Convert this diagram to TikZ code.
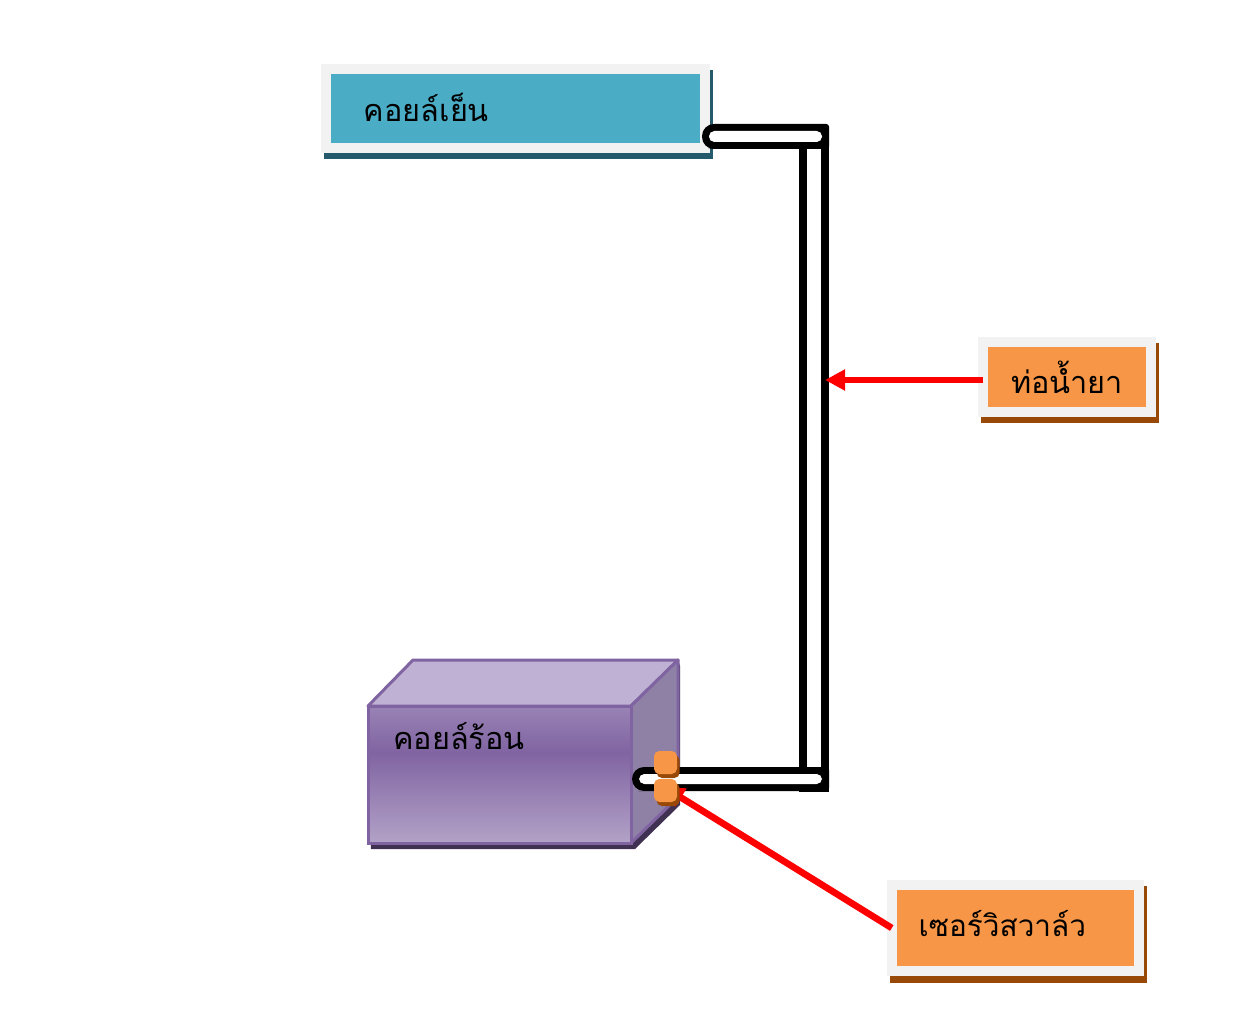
\documentclass[tikz,border=0pt]{standalone}
\usepackage{fontspec}
\usetikzlibrary{arrows.meta,shadows}
\newfontfamily\thaifont[Script=Thai]{Loma}

\definecolor{coolfill}{HTML}{4BACC6}
\definecolor{coolshade}{HTML}{245A6B}
\definecolor{warmfill}{HTML}{F79646}
\definecolor{warmshade}{HTML}{984807}
\definecolor{rimgray}{HTML}{F2F2F2}
\definecolor{hotedge}{HTML}{8064A2}
\definecolor{hottop}{HTML}{BFB1D3}
\definecolor{hotside}{HTML}{8F81A6}
\definecolor{hotshadow}{HTML}{403152}

\pgfdeclareverticalshading{hotfront}{100bp}{color(0bp)=(hotedge!55!white); color(25bp)=(hotedge!60!white); color(58bp)=(hotedge); color(75bp)=(hotedge!80!white); color(100bp)=(hotedge!80!white)}

\tikzset{
	thaitext/.style={font=\thaifont\fontsize{23}{26}\selectfont,text=black},
	panel/.style={rectangle,draw=rimgray,line width=7.5pt,outer sep=0pt,thaitext,
		general shadow={draw=#1,fill=#1,line width=7.5pt,shadow xshift=2.2pt,shadow yshift=-4.8pt}},
	pointer/.style={draw=red,line width=5pt,-{Triangle[length=15pt,width=15pt]}},
	nut/.style={rectangle,rounded corners=4pt,fill=warmfill,inner sep=0pt,
		minimum width=17.25pt,minimum height=17.25pt,
		general shadow={fill=warmshade,shadow xshift=2pt,shadow yshift=-3pt}}
}

\begin{document}
\begin{tikzpicture}[x=0.75pt,y=0.75pt,yscale=-1]
	\useasboundingbox (0,0) rectangle (1243,1012);

	% Cold coil box
	\node [panel=coolshade,fill=coolfill,minimum width=284.25pt,minimum height=59.25pt,text depth=2pt,
		text width=227.25pt,inner xsep=28.5pt,inner ysep=0pt,align=left] (coolbox) at (515.3,108.5) {คอยล์เย็น};

	% Hot coil block
	\fill [hotshadow] (371,849) -- (635,849) -- (680,805) -- (680,666) -- (678,660) -- (368,706) -- cycle;
	\filldraw [draw=hotedge,line width=2.25pt,fill=hottop,line join=round] (368,706) -- (413,660) -- (678,660) -- (631,706) -- cycle;
	\filldraw [draw=hotedge,line width=2.25pt,fill=hotside,line join=round] (631,706) -- (678,660) -- (678,797) -- (631,843) -- cycle;
	\node [rectangle,draw=hotedge,line width=2.25pt,shading=hotfront,minimum width=197.25pt,minimum height=102.75pt,inner sep=0pt] (hotbox) at (499.5,774.5) {};
	\node [thaitext,anchor=west,inner sep=0pt] (hotlabel) at (393,736) {คอยล์ร้อน};

	% Pipes
	\draw [line width=5.6pt,fill=white] (803,130) rectangle (825,788);
	\fill [rounded corners=9pt] (720,124) -- (702,124) -- (702,149) -- (720,149) [sharp corners] -- (826,149) [rounded corners=2pt] -- (829,149) -- (829,124) -- cycle;
	\fill [white,rounded corners=4pt] (709,131) rectangle (822,142);
	\fill [rounded corners=9pt] (650,767) -- (632,767) -- (632,791) -- (650,791) [sharp corners] -- (826,791) [rounded corners=2pt] -- (829,791) -- (829,767) -- cycle;
	\fill [white,rounded corners=4pt] (639,774) rectangle (822,784);

	% Labels
	\node [panel=warmshade,fill=warmfill,minimum width=126pt,minimum height=52.5pt,inner sep=0pt] (pipelabel) at (1067,377) {ท่อน้ำยา};
	\node [panel=warmshade,fill=warmfill,minimum width=185.6pt,minimum height=65pt,text depth=7.5pt,
		font=\thaifont\fontsize{22.3}{26}\selectfont,
		text width=145.2pt,inner xsep=20.2pt,inner ysep=0pt,align=left] (valvelabel) at (1015.5,928) {เซอร์วิสวาล์ว};

	% Pointers
	\coordinate (pipetip) at (825,380);
	\coordinate (valvetip) at (664,787);
	\draw [pointer] (pipelabel.west |- pipetip) -- (pipetip);
	\draw [pointer] (valvelabel.west) -- (valvetip);

	% Valve nuts
	\node [nut] (uppernut) at (665.5,762.5) {};
	\node [nut] (lowernut) at (665.5,790.5) {};
\end{tikzpicture}
\end{document}
